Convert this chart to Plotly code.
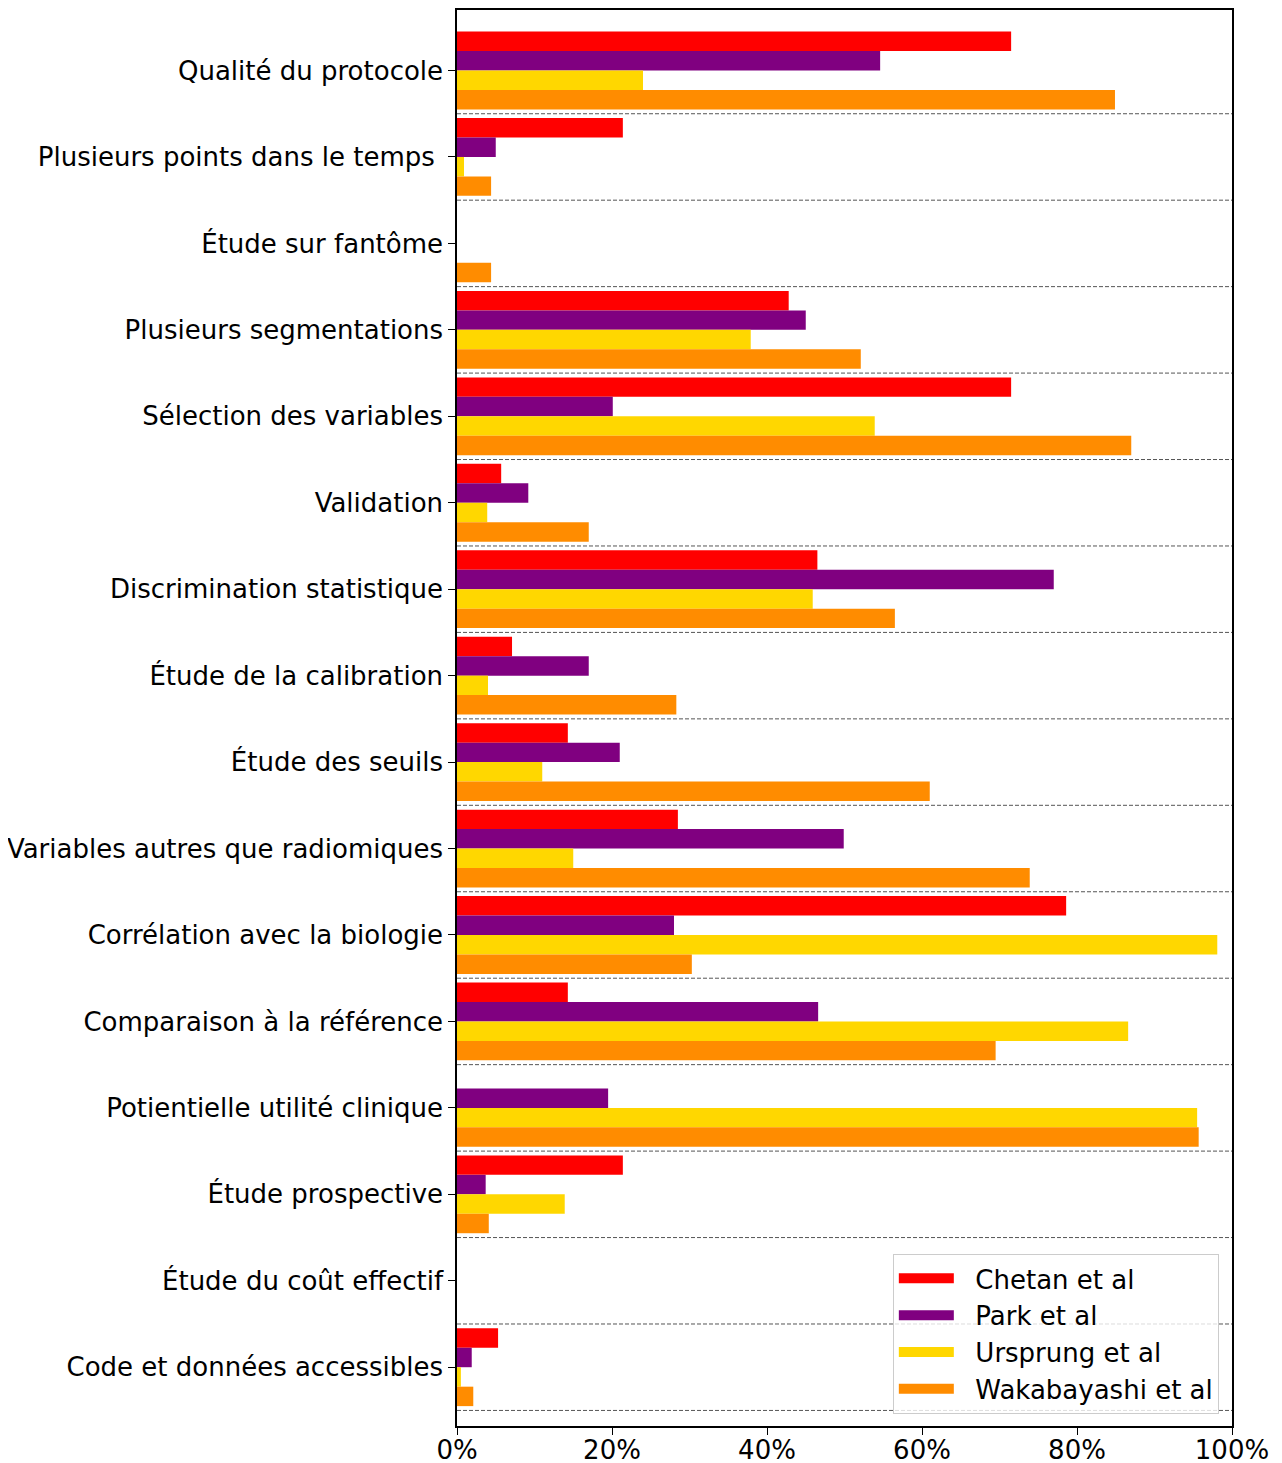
import plotly.graph_objects as go

# Critères (de haut en bas)
categories = [
    "Qualité du protocole",
    "Plusieurs points dans le temps ",
    "Étude sur fantôme",
    "Plusieurs segmentations",
    "Sélection des variables",
    "Validation",
    "Discrimination statistique",
    "Étude de la calibration",
    "Étude des seuils",
    "Variables autres que radiomiques",
    "Corrélation avec la biologie",
    "Comparaison à la référence",
    "Potientielle utilité clinique",
    "Étude prospective",
    "Étude du coût effectif",
    "Code et données accessibles",
]

# Pourcentages
chetan = [71.5, 21.4, 0, 42.8, 71.5, 5.7, 46.5, 7.1, 14.3, 28.5, 78.6, 14.3, 0, 21.4, 0, 5.3]
park = [54.6, 5.0, 0, 45.0, 20.1, 9.2, 77.0, 17.0, 21.0, 49.9, 28.0, 46.6, 19.5, 3.7, 0, 1.9]
ursprung = [24.0, 0.9, 0, 37.9, 53.9, 3.9, 45.9, 4.0, 11.0, 15.0, 98.1, 86.6, 95.5, 13.9, 0, 0.5]
wakabayashi = [84.9, 4.4, 4.4, 52.1, 87.0, 17.0, 56.5, 28.3, 61.0, 73.9, 30.3, 69.5, 95.7, 4.1, 0, 2.1]

series = [
    ("Chetan et al", chetan, "#ff0000"),
    ("Park et al", park, "#800080"),
    ("Ursprung et al", ursprung, "#ffd700"),
    ("Wakabayashi et al", wakabayashi, "#ff8c00"),
]

positions = list(range(len(categories)))

fig = go.Figure()
for name, values, color in series:
    fig.add_trace(go.Bar(
        y=positions,
        x=values,
        name=name,
        orientation="h",
        marker=dict(color=color, line=dict(width=0)),
        showlegend=False,
    ))

# Entrées de légende en forme de rectangle (comme matplotlib)
for name, values, color in series:
    fig.add_trace(go.Scatter(
        x=[None], y=[None],
        mode="lines",
        name="  " + name,
        line=dict(color=color, width=18),
        hoverinfo="skip",
    ))

# Séparateurs pointillés entre les groupes
for k in positions:
    fig.add_shape(
        type="line", xref="paper", yref="y",
        x0=0, x1=1, y0=k + 0.5, y1=k + 0.5,
        line=dict(color="#555555", width=1, dash="4px,2px"),
        layer="below",
    )

font_main = dict(family="DejaVu Sans", size=26, color="black")

fig.update_layout(
    width=1282,
    height=1463,
    barmode="group",
    bargap=0.1,
    bargroupgap=0,
    plot_bgcolor="white",
    paper_bgcolor="white",
    font=font_main,
    margin=dict(l=449, r=58, t=2, b=45),
    xaxis=dict(
        range=[0, 100],
        tickvals=[0, 20, 40, 60, 80, 100],
        ticktext=["0%", "20%", "40%", "60%", "80%", "100%"],
        showgrid=False,
        zeroline=False,
        showline=True,
        linecolor="black",
        linewidth=1.5,
        mirror=True,
        ticks="outside",
        ticklen=7,
        tickcolor="black",
        tickfont=font_main,
        ticklabelstandoff=-7,
        automargin=False,
    ),
    yaxis=dict(
        range=[15.68, -0.70],
        tickvals=positions,
        ticktext=categories,
        showgrid=False,
        zeroline=False,
        showline=True,
        linecolor="black",
        linewidth=1.5,
        mirror=True,
        ticks="outside",
        ticklen=7,
        tickcolor="black",
        tickfont=font_main,
        automargin=False,
    ),
    legend=dict(
        x=0.983,
        y=0.0085,
        xanchor="right",
        yanchor="bottom",
        bgcolor="rgba(255,255,255,0.8)",
        bordercolor="#cccccc",
        borderwidth=1,
        font=font_main,
        traceorder="normal",
        tracegroupgap=0,
        itemwidth=55,
    ),
)

fig.write_html("out.html")
